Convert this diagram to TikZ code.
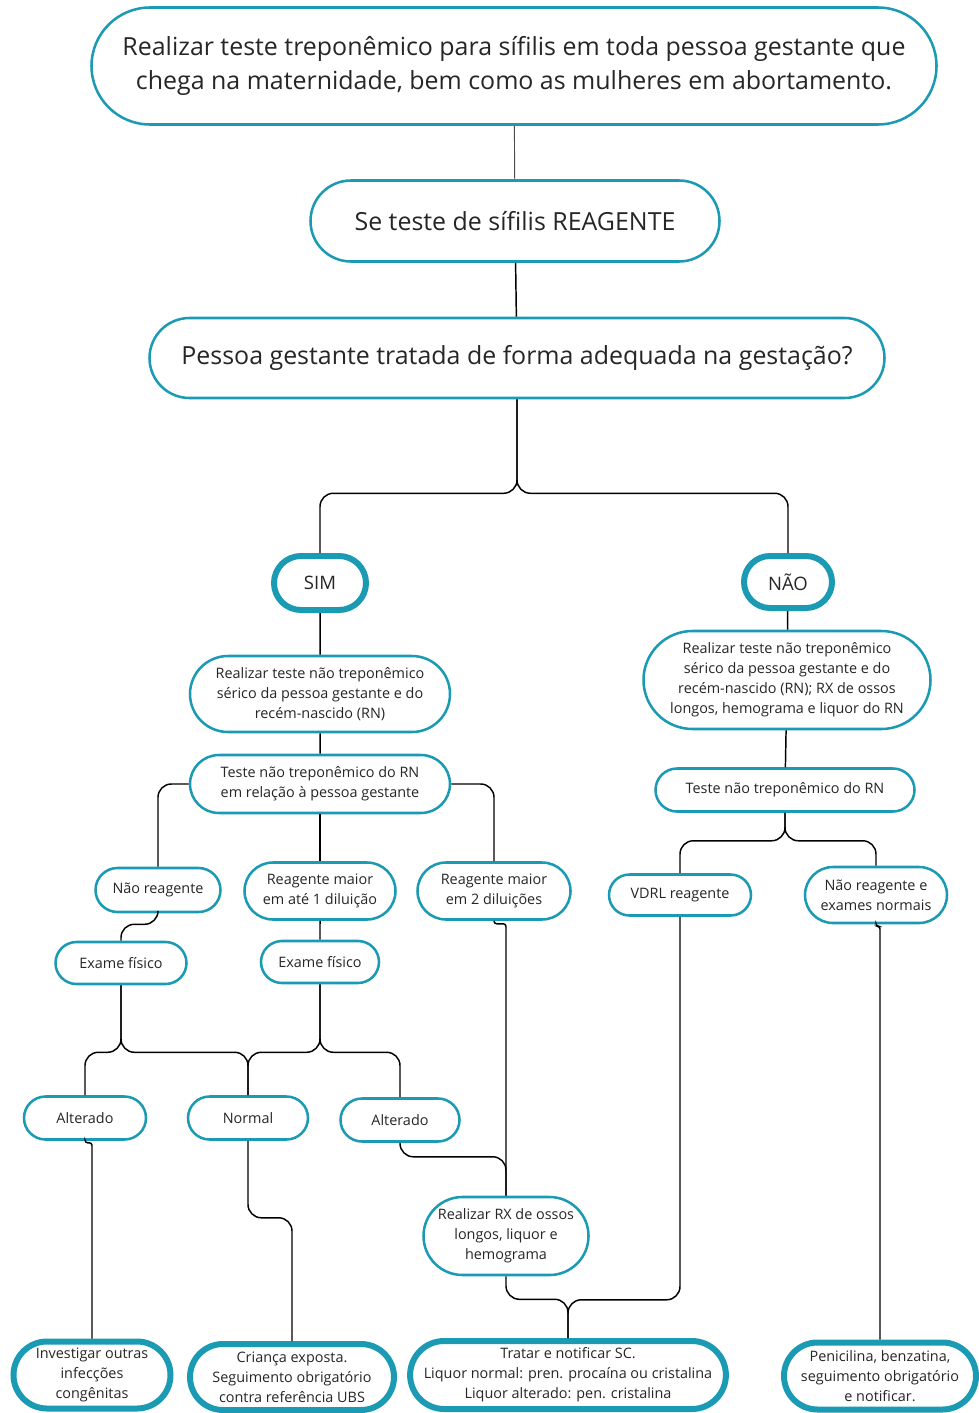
\documentclass[tikz,border=0pt]{standalone}
\usepackage{fontspec}
\setmainfont{Open Sans}
\usetikzlibrary{shapes.misc}
\definecolor{boxblue}{HTML}{1B9AB4}
\definecolor{inkgrey}{HTML}{262626}

\begin{document}
\begin{tikzpicture}[x=0.75pt, y=-0.75pt,
      box/.style={
        rounded rectangle,
        draw=boxblue,
        line width=1.9pt,
        fill=white,
        align=center,
        inner sep=0pt,
        text=inkgrey,
        font=\fontsize{10.8}{15}\selectfont
      },
      bigbox/.style={box, font=\fontsize{18.7}{26}\selectfont},
      endbox/.style={box, line width=4.5pt},
      answer/.style={box, line width=4.5pt, font=\fontsize{13.9}{16}\selectfont},
      link/.style={draw=black, line width=1.1pt, rounded corners=10pt},
      hook/.style={link, rounded corners=2pt},
      thinlink/.style={draw=black!70, line width=0.7pt}]
    \useasboundingbox (0,0) rectangle (978,1413);

    \node[bigbox, minimum width=633.75pt, minimum height=87.75pt] (top) at (514,66)
      {Realizar teste treponêmico para sífilis em toda pessoa gestante que\\
       chega na maternidade, bem como as mulheres em abortamento.};
    \node[bigbox, minimum width=306.75pt, minimum height=60.75pt] (reag) at (515,221)
      {Se teste de sífilis REAGENTE};
    \node[bigbox, minimum width=551.25pt, minimum height=60pt] (pessoa) at (517,358)
      {Pessoa gestante tratada de forma adequada na gestação?};

    \node[answer, minimum width=69pt, minimum height=40.5pt] (sim) at (320,583) {SIM};
    \node[answer, minimum width=66pt, minimum height=39pt] (nao) at (788,582) {NÃO};

    % ramo SIM
    \node[box, minimum width=195pt, minimum height=57pt] (realsim) at (320,694)
      {Realizar teste não treponêmico\\ sérico da pessoa gestante e do\\ recém-nascido (RN)};
    \node[box, minimum width=195pt, minimum height=43.5pt] (testesim) at (320,784)
      {Teste não treponêmico do RN\\ em relação à pessoa gestante};
    \node[box, minimum width=93.75pt, minimum height=33pt] (naoreag) at (158,890) {Não reagente};
    \node[box, minimum width=113.25pt, minimum height=42.75pt] (reag1) at (320,891)
      {Reagente maior\\ em até 1 diluição};
    \node[box, minimum width=114.75pt, minimum height=42.75pt] (reag2) at (494,891)
      {Reagente maior\\ em 2 diluições};
    \node[box, minimum width=98.25pt, minimum height=31.5pt] (examel) at (121,963) {Exame físico};
    \node[box, minimum width=88.5pt, minimum height=31.5pt] (examem) at (320,962) {Exame físico};
    \node[box, minimum width=91.5pt, minimum height=32.25pt] (altl) at (85,1118) {Alterado};
    \node[box, minimum width=90pt, minimum height=32.25pt] (normal) at (248,1118) {Normal};
    \node[box, minimum width=89.25pt, minimum height=32.25pt] (altr) at (400,1120) {Alterado};
    \node[box, minimum width=123.75pt, minimum height=58.5pt] (rx) at (506,1236)
      {Realizar RX de ossos\\ longos, liquor e\\ hemograma};

    % ramo NÃO
    \node[box, minimum width=215.25pt, minimum height=73.5pt] (realnao) at (787,680)
      {Realizar teste não treponêmico\\ sérico da pessoa gestante e do\\
       recém-nascido (RN); RX de ossos\\ longos, hemograma e liquor do RN};
    \node[box, minimum width=194.25pt, minimum height=32.25pt] (testenao) at (785,790)
      {Teste não treponêmico do RN};
    \node[box, minimum width=106.5pt, minimum height=30.75pt] (vdrl) at (680,895) {VDRL reagente};
    \node[box, minimum width=106.5pt, minimum height=42pt] (naoexam) at (876,895)
      {Não reagente e\\ exames normais};

    % condutas finais
    \node[endbox, minimum width=117.75pt, minimum height=50.25pt] (invest) at (92,1375)
      {Investigar outras\\ infecções\\ congênitas};
    \node[endbox, minimum width=153pt, minimum height=49.5pt] (crianca) at (292,1377)
      {Criança exposta.\\ Seguimento obrigatório\\ contra referência UBS};
    \node[endbox, minimum width=233.25pt, minimum height=51pt] (tratar) at (568,1375)
      {Tratar e notificar SC.\\ Liquor normal: pren. procaína ou cristalina\\
       Liquor alterado: pen. cristalina};
    \node[endbox, minimum width=144pt, minimum height=50.25pt] (penic) at (880,1376)
      {Penicilina, benzatina,\\ seguimento obrigatório\\ e notificar.};

    \draw[thinlink] (top) -- (reag);
    \draw[link] (reag) -- (pessoa);
    \draw[link] (pessoa.south) -- ++(0,94) -| (sim.north);
    \draw[link] (pessoa.south) -- ++(0,94) -| (nao.north);
    \draw[link] (sim) -- (realsim);
    \draw[link] (realsim) -- (testesim);
    \draw[link] (testesim.west) -| (naoreag.north);
    \draw[link] (testesim.south) -- (reag1.north);
    \draw[link] (testesim.east) -| (reag2.north);
    \draw[link] (naoreag.south) -- ++(0,11) -| (examel.north);
    \draw[link] (reag1) -- (examem);
    \draw[hook] (reag2.south) -- ++(0,3) -| (rx.north);
    \draw[link] (examel.south) -- ++(0,67) -| (altl.north);
    \draw[link] (examel.south) -- ++(0,67) -| (normal.north);
    \draw[link] (examem.south) -- ++(0,68) -| (normal.north);
    \draw[link] (examem.south) -- ++(0,68) -| (altr.north);
    \draw[hook] (altl.south) -- ++(0,2) -| (invest.north);
    \draw[link] (normal.south) -- ++(0,77) -| (crianca.north);
    \draw[link] (altr.south) -- ++(0,14) -| (rx.north);
    \draw[link] (rx.south) -- ++(0,23) -| (tratar.north);
    \draw[link] (nao) -- (realnao);
    \draw[link] (realnao) -- (testenao);
    \draw[link] (testenao.south) -- ++(0,28) -| (vdrl.north);
    \draw[link] (testenao.south) -- ++(0,28) -| (naoexam.north);
    \draw[link] (vdrl.south) -- ++(0,383) -| (tratar.north);
    \draw[hook] (naoexam.south) -- ++(0,2) -| (penic.north);
  \end{tikzpicture}
\end{document}
